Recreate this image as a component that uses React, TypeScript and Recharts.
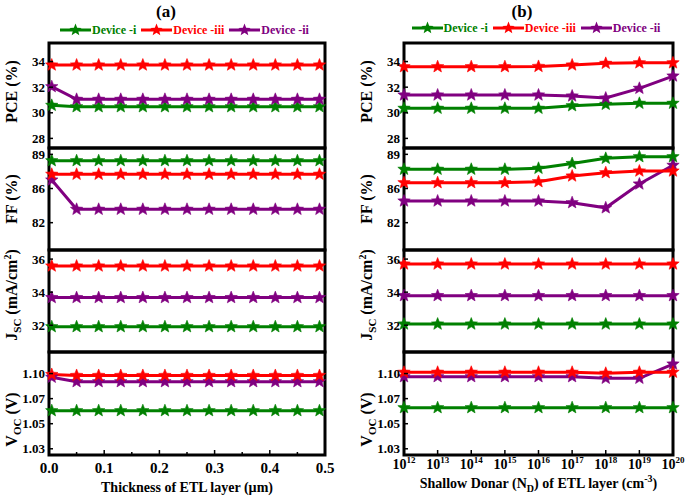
import React from 'react';
import { LineChart, Line, XAxis, YAxis, ReferenceArea, Legend } from 'recharts';

// x values
const THICKNESS = [0.005, 0.05, 0.09, 0.13, 0.17, 0.21, 0.25, 0.29, 0.33, 0.37, 0.41, 0.45, 0.49];
const DONOR_EXP = [12, 13, 14, 15, 16, 17, 18, 19, 20];

// (a) ETL thickness sweep
const PCE_A_I = [30.58, 30.47, 30.47, 30.47, 30.47, 30.47, 30.47, 30.47, 30.47, 30.47, 30.47, 30.47, 30.47];
const PCE_A_II = [32.04, 31.05, 31.05, 31.05, 31.05, 31.05, 31.05, 31.05, 31.05, 31.05, 31.05, 31.05, 31.05];
const PCE_A_III = [33.73, 33.73, 33.73, 33.73, 33.73, 33.73, 33.73, 33.73, 33.73, 33.73, 33.73, 33.73, 33.73];
const FF_A_I = [88.35, 88.35, 88.35, 88.35, 88.35, 88.35, 88.35, 88.35, 88.35, 88.35, 88.35, 88.35, 88.35];
const FF_A_II = [86.37, 83.37, 83.37, 83.37, 83.37, 83.37, 83.37, 83.37, 83.37, 83.37, 83.37, 83.37, 83.37];
const FF_A_III = [86.96, 86.96, 86.96, 86.96, 86.96, 86.96, 86.96, 86.96, 86.96, 86.96, 86.96, 86.96, 86.96];
const JSC_A_I = [31.91, 31.91, 31.91, 31.91, 31.91, 31.91, 31.91, 31.91, 31.91, 31.91, 31.91, 31.91, 31.91];
const JSC_A_II = [33.67, 33.67, 33.67, 33.67, 33.67, 33.67, 33.67, 33.67, 33.67, 33.67, 33.67, 33.67, 33.67];
const JSC_A_III = [35.58, 35.58, 35.58, 35.58, 35.58, 35.58, 35.58, 35.58, 35.58, 35.58, 35.58, 35.58, 35.58];
const VOC_A_I = [1.063, 1.063, 1.063, 1.063, 1.063, 1.063, 1.063, 1.063, 1.063, 1.063, 1.063, 1.063, 1.063];
const VOC_A_II = [1.0963, 1.0919, 1.0919, 1.0919, 1.0919, 1.0919, 1.0919, 1.0919, 1.0919, 1.0919, 1.0919, 1.0919, 1.0919];
const VOC_A_III = [1.0991, 1.0981, 1.0981, 1.0981, 1.0981, 1.0981, 1.0981, 1.0981, 1.0981, 1.0981, 1.0981, 1.0981, 1.0981];

// (b) shallow donor density sweep
const PCE_B_I = [30.35, 30.35, 30.35, 30.35, 30.35, 30.55, 30.66, 30.74, 30.74];
const PCE_B_II = [31.39, 31.39, 31.39, 31.39, 31.39, 31.31, 31.15, 31.91, 32.87];
const PCE_B_III = [33.6, 33.6, 33.6, 33.6, 33.62, 33.73, 33.86, 33.9, 33.9];
const FF_B_I = [87.47, 87.47, 87.47, 87.47, 87.57, 88.06, 88.59, 88.76, 88.76];
const FF_B_II = [84.22, 84.22, 84.22, 84.22, 84.22, 84.05, 83.52, 85.96, 87.88];
const FF_B_III = [86.1, 86.1, 86.1, 86.1, 86.2, 86.78, 87.12, 87.29, 87.29];
const JSC_B_I = [32.07, 32.07, 32.07, 32.07, 32.07, 32.07, 32.07, 32.07, 32.07];
const JSC_B_II = [33.79, 33.79, 33.79, 33.79, 33.79, 33.79, 33.79, 33.79, 33.79];
const JSC_B_III = [35.7, 35.7, 35.7, 35.7, 35.7, 35.7, 35.7, 35.7, 35.7];
const VOC_B_I = [1.066, 1.066, 1.066, 1.066, 1.066, 1.066, 1.066, 1.066, 1.066];
const VOC_B_II = [1.0969, 1.0969, 1.0969, 1.0969, 1.0969, 1.0969, 1.0953, 1.0953, 1.1095];
const VOC_B_III = [1.1013, 1.1013, 1.1013, 1.1013, 1.1013, 1.1013, 1.1003, 1.1013, 1.1013];

// axis ticks (positions + printed labels)
const XA_TICKS = [0, 0.05, 0.1, 0.15, 0.2, 0.25, 0.3, 0.35, 0.4, 0.45, 0.5];
const XA_LABELS = ['0.0', '', '0.1', '', '0.2', '', '0.3', '', '0.4', '', '0.5'];
const XB_TICKS = [12, 13, 14, 15, 16, 17, 18, 19, 20];
const XB_LABELS = ['12', '13', '14', '15', '16', '17', '18', '19', '20'];
const PCE_TICKS = [28, 30, 32, 34];
const PCE_LABELS = ['28', '30', '32', '34'];
const FF_TICKS = [82, 85.5, 89];
const FF_LABELS = ['82', '86', '89'];
const JSC_TICKS = [32, 34, 36];
const JSC_LABELS = ['32', '34', '36'];
const VOC_TICKS = [1.025, 1.05, 1.075, 1.1];
const VOC_LABELS = ['1.03', '1.05', '1.07', '1.10'];

// render order: red drawn last (on top); legend order below
const DEVICES = [
  { key: 'i', name: 'Device -i', color: '#008000' },
  { key: 'ii', name: 'Device -ii', color: '#800080' },
  { key: 'iii', name: 'Device -iii', color: '#ff0000' },
];
const LEGEND_ORDER = ['i', 'iii', 'ii'];

const FONT = "'Liberation Serif', 'Times New Roman', serif";
const YW = 48;
const PADR = 12;
const EDGES = [43, 148, 250, 352, 455];

const rowsFor = (xs: number[], i: number[], ii: number[], iii: number[]) =>
  xs.map((x, k) => ({ x, i: i[k], ii: ii[k], iii: iii[k] }));

function starPath(cx: number, cy: number, R: number, r: number) {
  let d = '';
  for (let k = 0; k < 10; k++) {
    const a = -Math.PI / 2 + (k * Math.PI) / 5;
    const rad = k % 2 === 0 ? R : r;
    d += (k ? 'L' : 'M') + (cx + rad * Math.cos(a)).toFixed(2) + ',' + (cy + rad * Math.sin(a)).toFixed(2);
  }
  return d + 'Z';
}

const starDot = (color: string) => (props: any) => {
  const { cx, cy, index } = props;
  if (cx == null || cy == null) return <g key={`s-${index}`} />;
  return <path key={`s-${index}`} d={starPath(cx, cy, 6.5, 2.8)} fill={color} stroke={color} strokeWidth={0.6} />;
};

const LegendBox = ({ payload, title, titleX, rowTop, plotW }: any) => {
  const items = LEGEND_ORDER.map((k) => (payload || []).find((e: any) => e.dataKey === k)).filter(Boolean);
  return (
    <div style={{ position: 'relative', width: '100%', height: 40, fontFamily: FONT, fontWeight: 'bold' }}>
      <div style={{ position: 'absolute', left: titleX, top: 3, transform: 'translateX(-50%)', fontSize: 17, lineHeight: '18px' }}>
        {title}
      </div>
      <div style={{ position: 'absolute', left: YW, width: plotW, top: rowTop, display: 'flex', justifyContent: 'center', alignItems: 'center', height: 16 }}>
        {items.map((e: any) => (
          <div key={e.dataKey} style={{ display: 'flex', alignItems: 'center', marginRight: 5 }}>
            <svg width={31} height={14}>
              <line x1={0} x2={31} y1={7} y2={7} stroke={e.color} strokeWidth={3} />
              <path d={starPath(15.5, 7, 6.5, 2.8)} fill={e.color} />
            </svg>
            <span style={{ color: e.color, fontSize: 12, marginLeft: 1, lineHeight: '14px' }}>{e.value}</span>
          </div>
        ))}
      </div>
    </div>
  );
};

function Panel(p: any) {
  const plotH = p.bottom - p.top;
  const xh = p.showX ? 45 : 0;
  const padBottom = p.showX ? 3 : 6;
  const width = YW + p.plotW + PADR;
  const height = p.padTop + plotH + xh + padBottom;
  const plotBottom = p.padTop + plotH;
  const chartLeft = p.left - YW;
  const titleX = YW - 32;
  const titleY = p.padTop + plotH / 2 + (p.yTitleDy || 0);

  const yTick = (t: any) => {
    const idx = p.yTicks.indexOf(t.payload.value);
    return (
      <g>
        <line x1={YW} x2={YW + 4} y1={t.y} y2={t.y} stroke="#000" strokeWidth={1.5} />
        <text x={YW - 4} y={t.y} dy={4.5} textAnchor="end" fontSize={13} fontWeight="bold" fontFamily={FONT} fill="#000">
          {p.yLabels[idx]}
        </text>
      </g>
    );
  };

  const xTick = (t: any) => {
    const idx = p.xTicks.indexOf(t.payload.value);
    const lab = p.xLabels[idx];
    return (
      <g>
        <line x1={t.x} x2={t.x} y1={plotBottom} y2={plotBottom - (lab ? 5 : 3)} stroke="#000" strokeWidth={1.5} />
        {p.exp ? (
          <text x={t.x} y={plotBottom + 14} textAnchor="middle" fontSize={14} fontWeight="bold" fontFamily={FONT} fill="#000">
            10<tspan dy={-6} fontSize={9}>{lab}</tspan>
          </text>
        ) : (
          <text x={t.x} y={plotBottom + 18} textAnchor="middle" fontSize={15} fontWeight="bold" fontFamily={FONT} fill="#000">
            {lab}
          </text>
        )}
      </g>
    );
  };

  return (
    <div style={{ position: 'absolute', left: chartLeft, top: p.top - p.padTop, width, height }}>
      <LineChart width={width} height={height} data={p.rows} margin={{ top: p.padTop, right: PADR, bottom: padBottom, left: 0 }}>
        <XAxis
          type="number"
          dataKey="x"
          domain={p.xDomain}
          ticks={p.xTicks}
          interval={0}
          hide={!p.showX}
          height={xh || 1}
          axisLine={false}
          tickLine={false}
          tick={xTick}
        />
        <YAxis
          type="number"
          domain={p.yDomain}
          ticks={p.yTicks}
          interval={0}
          width={YW}
          axisLine={false}
          tickLine={false}
          tick={yTick}
        />
        <ReferenceArea
          x1={p.xDomain[0]}
          x2={p.xDomain[1]}
          y1={p.yDomain[0]}
          y2={p.yDomain[1]}
          fill="none"
          fillOpacity={0}
          stroke="#000"
          strokeWidth={3}
        />
        {DEVICES.map((d) => (
          <Line
            key={d.key}
            type="linear"
            dataKey={d.key}
            name={d.name}
            stroke={d.color}
            strokeWidth={3}
            dot={starDot(d.color)}
            activeDot={false}
            isAnimationActive={false}
          />
        ))}
        {p.legend && (
          <Legend
            layout="horizontal"
            verticalAlign="middle"
            align="center"
            wrapperStyle={{ top: 0, left: 0, width: width, height: 40 }}
            content={(lp: any) => (
              <LegendBox payload={lp.payload} title={p.legend.title} titleX={p.legend.titleX - chartLeft} rowTop={p.legend.rowTop} plotW={p.plotW} />
            )}
          />
        )}
      </LineChart>
      {/* axis titles */}
      <svg width={width} height={height} style={{ position: 'absolute', left: 0, top: 0, pointerEvents: 'none', overflow: 'visible' }}>
        <text
          x={titleX}
          y={titleY}
          transform={`rotate(-90 ${titleX} ${titleY})`}
          textAnchor="middle"
          fontSize={16}
          fontWeight="bold"
          fontFamily={FONT}
          fill="#000"
        >
          {p.yTitle}
        </text>
        {p.showX && (
          <text x={YW + p.plotW / 2} y={plotBottom + (p.exp ? 33 : 37)} textAnchor="middle" fontSize={14} fontWeight="bold" fontFamily={FONT} fill="#000">
            {p.xTitle}
          </text>
        )}
      </svg>
    </div>
  );
}

const PCE_DOMAIN = [27.25, 35.45];
const FF_DOMAIN = [79.2, 89.65];
const JSC_DOMAIN = [30.38, 36.55];
const VOC_DOMAIN = [1.0188, 1.1215];

const jscTitle = (
  <>
    J<tspan dy={4} fontSize={11}>SC</tspan>
    <tspan dy={-4}> (mA/cm</tspan>
    <tspan dy={-6} fontSize={10}>2</tspan>
    <tspan dy={6}>)</tspan>
  </>
);
const vocTitle = (
  <>
    V<tspan dy={4} fontSize={11}>OC</tspan>
    <tspan dy={-4}> (V)</tspan>
  </>
);

function Column({ left, plotW, xs, xDomain, xTicks, xLabels, exp, xTitle, title, titleX, rowTop, sets }: any) {
  const common = { left, plotW, xDomain, xTicks, xLabels, exp };
  return (
    <>
      <Panel
        {...common}
        top={EDGES[0]}
        bottom={EDGES[1]}
        padTop={EDGES[0]}
        rows={rowsFor(xs, sets.pce[0], sets.pce[1], sets.pce[2])}
        yDomain={PCE_DOMAIN}
        yTicks={PCE_TICKS}
        yLabels={PCE_LABELS}
        yTitle="PCE (%)"
        yTitleDy={-4}
        legend={{ title, titleX, rowTop }}
      />
      <Panel
        {...common}
        top={EDGES[1]}
        bottom={EDGES[2]}
        padTop={6}
        rows={rowsFor(xs, sets.ff[0], sets.ff[1], sets.ff[2])}
        yDomain={FF_DOMAIN}
        yTicks={FF_TICKS}
        yLabels={FF_LABELS}
        yTitle="FF (%)"
        yTitleDy={0}
      />
      <Panel
        {...common}
        top={EDGES[2]}
        bottom={EDGES[3]}
        padTop={6}
        rows={rowsFor(xs, sets.jsc[0], sets.jsc[1], sets.jsc[2])}
        yDomain={JSC_DOMAIN}
        yTicks={JSC_TICKS}
        yLabels={JSC_LABELS}
        yTitle={jscTitle}
        yTitleDy={-6}
      />
      <Panel
        {...common}
        top={EDGES[3]}
        bottom={EDGES[4]}
        padTop={6}
        showX
        xTitle={xTitle}
        rows={rowsFor(xs, sets.voc[0], sets.voc[1], sets.voc[2])}
        yDomain={VOC_DOMAIN}
        yTicks={VOC_TICKS}
        yLabels={VOC_LABELS}
        yTitle={vocTitle}
        yTitleDy={16}
      />
    </>
  );
}

export default function App() {
  return (
    <div style={{ position: 'absolute', left: 0, top: 0, width: 685, height: 503, background: '#fff', overflow: 'hidden', fontFamily: FONT }}>
      <Column
        left={49}
        plotW={276}
        xs={THICKNESS}
        xDomain={[0, 0.5]}
        xTicks={XA_TICKS}
        xLabels={XA_LABELS}
        xTitle="Thickness of ETL layer (µm)"
        title="(a)"
        titleX={166}
        rowTop={22}
        sets={{
          pce: [PCE_A_I, PCE_A_II, PCE_A_III],
          ff: [FF_A_I, FF_A_II, FF_A_III],
          jsc: [JSC_A_I, JSC_A_II, JSC_A_III],
          voc: [VOC_A_I, VOC_A_II, VOC_A_III],
        }}
      />
      <Column
        left={404}
        plotW={269}
        xs={DONOR_EXP}
        xDomain={[12, 20]}
        xTicks={XB_TICKS}
        xLabels={XB_LABELS}
        exp
        xTitle={
          <>
            Shallow Donar (N<tspan dy={4} fontSize={10}>D</tspan>
            <tspan dy={-4}>) of ETL layer (cm</tspan>
            <tspan dy={-6} fontSize={10}>-3</tspan>
            <tspan dy={6}>)</tspan>
          </>
        }
        title="(b)"
        titleX={522}
        rowTop={20}
        sets={{
          pce: [PCE_B_I, PCE_B_II, PCE_B_III],
          ff: [FF_B_I, FF_B_II, FF_B_III],
          jsc: [JSC_B_I, JSC_B_II, JSC_B_III],
          voc: [VOC_B_I, VOC_B_II, VOC_B_III],
        }}
      />
    </div>
  );
}
